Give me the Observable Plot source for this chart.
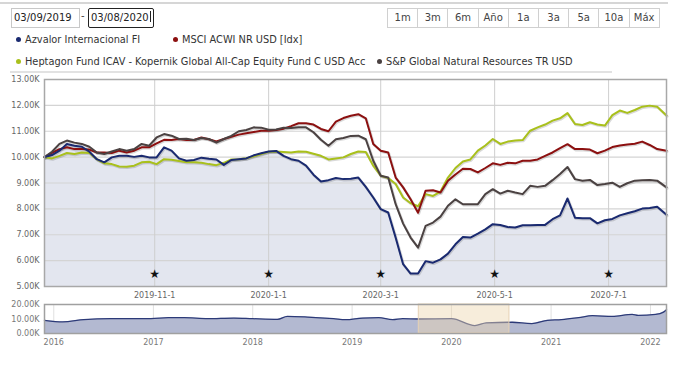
<!DOCTYPE html>
<html><head><meta charset="utf-8">
<script src="https://cdn.jsdelivr.net/npm/d3@7"></script>
<script src="https://cdn.jsdelivr.net/npm/@observablehq/plot@0.6"></script>
<style>
body{margin:0;width:690px;height:377px;position:relative;background:#fff;font-family:"DejaVu Sans",sans-serif;overflow:hidden;color:#333}
.abs{position:absolute}
#topline{left:0;top:2px;width:668px;height:0;border-top:2px solid #d6d6d6}
.inp{box-sizing:border-box;height:20px;font-size:10px;line-height:18px;padding-left:2px;color:#222}
#d1{left:11px;top:8px;width:69px;border:1px solid #c8c8c8}
#dash{left:81px;top:10px;font-size:10px;color:#444}
#d2{left:88px;top:8px;width:66px;border:1px solid #222;border-radius:2px}
#cursor{display:inline-block;width:1px;height:11px;background:#222;vertical-align:-1px;margin-left:1px}
#btns{left:388px;top:8px;display:flex}
#btns div{box-sizing:border-box;width:31.2px;height:20px;border:1px solid #d0d0d0;margin-left:-1px;text-align:center;font-size:10px;line-height:18px;color:#444}
.leg{font-size:9.8px;white-space:nowrap;line-height:12px;color:#333}
.dot{display:inline-block;width:5px;height:5px;border-radius:50%;margin-right:4px;vertical-align:1px}
#legline{left:10px;top:71px;width:602px;border-top:2px solid #e2e2e2}
#main{left:0;top:70px}
#nav{left:0;top:300px}
</style></head><body>
<div id="topline" class="abs"></div>
<div id="d1" class="abs inp">03/09/2019</div>
<div id="dash" class="abs">-</div>
<div id="d2" class="abs inp">03/08/2020<span id="cursor"></span></div>
<div id="btns" class="abs"></div>
<div id="legend"></div>
<div id="legline" class="abs"></div>
<div id="main" class="abs"></div>
<div id="nav" class="abs"></div>
<script>
// ---- data ----
const dates = ["2019-09-03","2019-09-07","2019-09-11","2019-09-15","2019-09-19","2019-09-23","2019-09-27","2019-10-01","2019-10-05","2019-10-09","2019-10-13","2019-10-17","2019-10-21","2019-10-25","2019-10-29","2019-11-02","2019-11-06","2019-11-10","2019-11-14","2019-11-18","2019-11-22","2019-11-26","2019-11-30","2019-12-04","2019-12-08","2019-12-12","2019-12-16","2019-12-20","2019-12-24","2019-12-28","2020-01-01","2020-01-05","2020-01-09","2020-01-13","2020-01-17","2020-01-21","2020-01-25","2020-01-29","2020-02-02","2020-02-06","2020-02-10","2020-02-14","2020-02-18","2020-02-22","2020-02-26","2020-03-01","2020-03-05","2020-03-09","2020-03-13","2020-03-17","2020-03-21","2020-03-25","2020-03-29","2020-04-02","2020-04-06","2020-04-10","2020-04-14","2020-04-18","2020-04-22","2020-04-26","2020-04-30","2020-05-04","2020-05-08","2020-05-12","2020-05-16","2020-05-20","2020-05-24","2020-05-28","2020-06-01","2020-06-05","2020-06-09","2020-06-13","2020-06-17","2020-06-21","2020-06-25","2020-06-29","2020-07-03","2020-07-07","2020-07-11","2020-07-15","2020-07-19","2020-07-23","2020-07-27","2020-08-01"];
const azvalor = [10000,10080,10250,10510,10440,10400,10210,9920,9800,9990,10050,10050,10010,10050,9990,9990,10380,10250,9950,9860,9890,9980,9940,9910,9700,9890,9920,9950,10070,10150,10220,10240,10050,9920,9860,9670,9320,9060,9110,9190,9150,9160,9210,8850,8440,7990,7860,6890,5860,5500,5500,5980,5920,6050,6270,6630,6910,6890,7040,7210,7410,7380,7300,7280,7370,7370,7380,7380,7600,7750,8400,7660,7640,7640,7440,7560,7610,7750,7830,7910,8010,8030,8080,7770];
const msci = [10000,10160,10310,10380,10310,10310,10290,10180,10180,10160,10250,10180,10250,10380,10380,10530,10670,10660,10700,10660,10660,10760,10690,10610,10700,10790,10870,10920,10970,11020,11020,11050,11100,11200,11310,11310,11260,11090,11000,11370,11510,11600,11660,11500,10510,10250,10180,9210,8830,8370,7850,8700,8720,8630,9090,9330,9550,9540,9410,9580,9760,9700,9780,9760,9860,9860,9910,10050,10180,10350,10500,10310,10310,10290,10150,10250,10390,10450,10490,10520,10600,10470,10310,10250];
const heptagon = [10000,9950,10050,10160,10120,10180,10160,9920,9760,9730,9640,9630,9670,9800,9820,9730,9920,9900,9850,9800,9800,9780,9730,9690,9780,9910,9920,9960,10030,10120,10210,10220,10200,10180,10220,10210,10130,10050,9910,9950,9990,10120,10220,10200,9670,9280,9190,8960,8440,8220,8100,8570,8500,8670,9210,9580,9830,9910,10250,10450,10700,10510,10600,10640,10660,11020,11150,11260,11410,11500,11700,11280,11240,11350,11260,11220,11620,11800,11710,11820,11950,11990,11950,11610];
const spgnr = [10000,10210,10510,10640,10560,10510,10400,10180,10120,10220,10310,10250,10310,10510,10440,10760,10890,10830,10700,10710,10660,10740,10700,10560,10700,10820,11000,11050,11150,11140,11060,11070,11140,11130,11150,11150,10960,10670,10440,10690,10740,10820,10830,10690,9860,9280,9210,8180,7430,6890,6500,7340,7470,7700,8120,8370,8180,8180,8180,8570,8760,8590,8700,8630,8570,8890,8850,8890,9110,9350,9620,9150,9090,9120,8920,8960,9010,8850,8990,9090,9110,9120,9090,8830];
const seriesNames = ["Azvalor Internacional FI","MSCI ACWI NR USD [Idx]","Heptagon Fund ICAV - Kopernik Global All-Cap Equity Fund C USD Acc","S&P Global Natural Resources TR USD"];
const seriesColors = ["#1a2a70","#8c1010","#a9c01c","#4b4242"];
const yTicks = [5000,6000,7000,8000,9000,10000,11000,12000,13000];
const xTicks = ["2019-11-01","2020-01-01","2020-03-01","2020-05-01","2020-07-01"];
const flagDates = ["2019-11-01","2020-01-01","2020-03-01","2020-05-01","2020-07-01"];
const navDates = ["2015-11-28","2016-02-03","2016-04-20","2016-07-28","2016-12-23","2017-02-25","2017-04-24","2017-07-20","2017-10-24","2018-01-01","2018-04-02","2018-05-08","2018-07-21","2018-10-25","2018-12-08","2019-02-09","2019-04-09","2019-05-30","2019-07-06","2019-09-03","2020-01-01","2020-03-27","2020-05-08","2020-08-11","2020-10-22","2020-12-19","2021-02-08","2021-04-12","2021-06-02","2021-08-14","2021-10-26","2021-11-17","2022-01-20","2022-02-18","2022-03-01"];
const navValues = [9080,8000,9530,10220,10220,10900,10900,10220,10670,10220,9760,11810,11350,10220,9530,10670,10900,9530,10220,10000,10200,5500,7300,7750,6800,9080,9530,10900,12270,11810,13170,12490,13170,14770,16360];
const navYTicks = [0,10000,20000];
const navXTicks = ["2016-01-01","2017-01-01","2018-01-01","2019-01-01","2020-01-01","2021-01-01","2022-01-01"];
const rangeButtons = ["1m","3m","6m","Año","1a","3a","5a","10a","Máx"];

// ---- html chrome ----
const btns = document.getElementById("btns");
rangeButtons.forEach(b => { const d = document.createElement("div"); d.textContent = b; btns.appendChild(d); });
const legPos = [[16,34],[173,34],[16,56],[377,56]];
const legend = document.getElementById("legend");
seriesNames.forEach((n,i) => {
  const d = document.createElement("div");
  d.className = "abs leg";
  d.style.left = legPos[i][0] + "px"; d.style.top = legPos[i][1] + "px";
  d.innerHTML = `<span class="dot" style="background:${seriesColors[i]}"></span>`;
  d.appendChild(document.createTextNode(n));
  legend.appendChild(d);
});

// ---- charts ----
const parse = d3.utcParse("%Y-%m-%d");
const allValues = [azvalor, msci, heptagon, spgnr];
const rows = allValues.flatMap((vals, s) => dates.map((d, i) => ({date: parse(d), value: vals[i], s})));
const azvRows = rows.filter(r => r.s === 0);
const fmtK = d => (d/1000).toFixed(2) + "K";
const drawOrder = [2,1,3,0];

const main = Plot.plot({
  width: 690, height: 232, marginLeft: 44, marginRight: 24, marginTop: 9, marginBottom: 16,
  style: {fontFamily: "DejaVu Sans", fontSize: "8px", color: "#666", background: "transparent"},
  x: {type: "utc", domain: [parse(dates[0]), parse(dates[dates.length-1])], ticks: xTicks.map(parse), tickFormat: d3.utcFormat("%Y-%-m-%-d"), tickSize: 0, tickPadding: 6, label: null},
  y: {domain: [yTicks[0], yTicks[yTicks.length-1]], ticks: yTicks, tickFormat: fmtK, tickSize: 0, tickPadding: 5, label: null},
  marks: [
    Plot.areaY(azvRows, {x: "date", y: "value", fill: "#e3e6ef", clip: true}),
    Plot.gridY(yTicks, {stroke: "#d4d4d4", strokeOpacity: 1, strokeWidth: 1.2}),
    Plot.gridX(xTicks.map(parse), {stroke: "#cfcfcf", strokeOpacity: 1}),
    ...drawOrder.map(s => Plot.lineY(rows.filter(r => r.s === s), {x: "date", y: "value", stroke: "#000", strokeOpacity: 0.15, strokeWidth: 2.6, dx: 0.8, dy: 1})),
    ...drawOrder.map(s => Plot.lineY(rows.filter(r => r.s === s), {x: "date", y: "value", stroke: seriesColors[s], strokeWidth: 2, curve: "linear"})),
    Plot.text(flagDates.map(parse), {x: d => d, frameAnchor: "bottom", dy: -9, text: () => "★", fontSize: 12, fill: "#111"}),
    Plot.frame({stroke: "#a8a8a8", strokeWidth: 1.5})
  ]
});
document.getElementById("main").appendChild(main);

const navRows = navDates.map((d, i) => ({date: parse(d), value: navValues[i]}));
const nav = Plot.plot({
  width: 690, height: 52, marginLeft: 44, marginRight: 24, marginTop: 4, marginBottom: 19,
  style: {fontFamily: "DejaVu Sans", fontSize: "8px", color: "#777", background: "transparent"},
  x: {type: "utc", domain: [navRows[0].date, navRows[navRows.length-1].date], ticks: navXTicks.map(parse), tickFormat: d3.utcFormat("%Y"), tickSize: 0, tickPadding: 6, label: null},
  y: {domain: [navYTicks[0], navYTicks[navYTicks.length-1]], ticks: navYTicks, tickFormat: fmtK, tickSize: 0, tickPadding: 5, label: null},
  marks: [
    Plot.gridX(navXTicks.map(parse), {stroke: "#e0e0e0", strokeOpacity: 1}),
    Plot.areaY(navRows, {x: "date", y: "value", fill: "#b3b9d1", curve: "monotone-x"}),
    Plot.lineY(navRows, {x: "date", y: "value", stroke: "#2c3a78", strokeWidth: 1.3, curve: "monotone-x"}),
    Plot.rect([{x1: parse(dates[0]), x2: parse(dates[dates.length-1])}], {x1: "x1", x2: "x2", fill: "#eed6b0", fillOpacity: 0.45, stroke: "#e6d2b4", strokeWidth: 1}),
    Plot.frame({stroke: "#a0a0a0", strokeWidth: 1.5})
  ]
});
document.getElementById("nav").appendChild(nav);
</script>
</body></html>
